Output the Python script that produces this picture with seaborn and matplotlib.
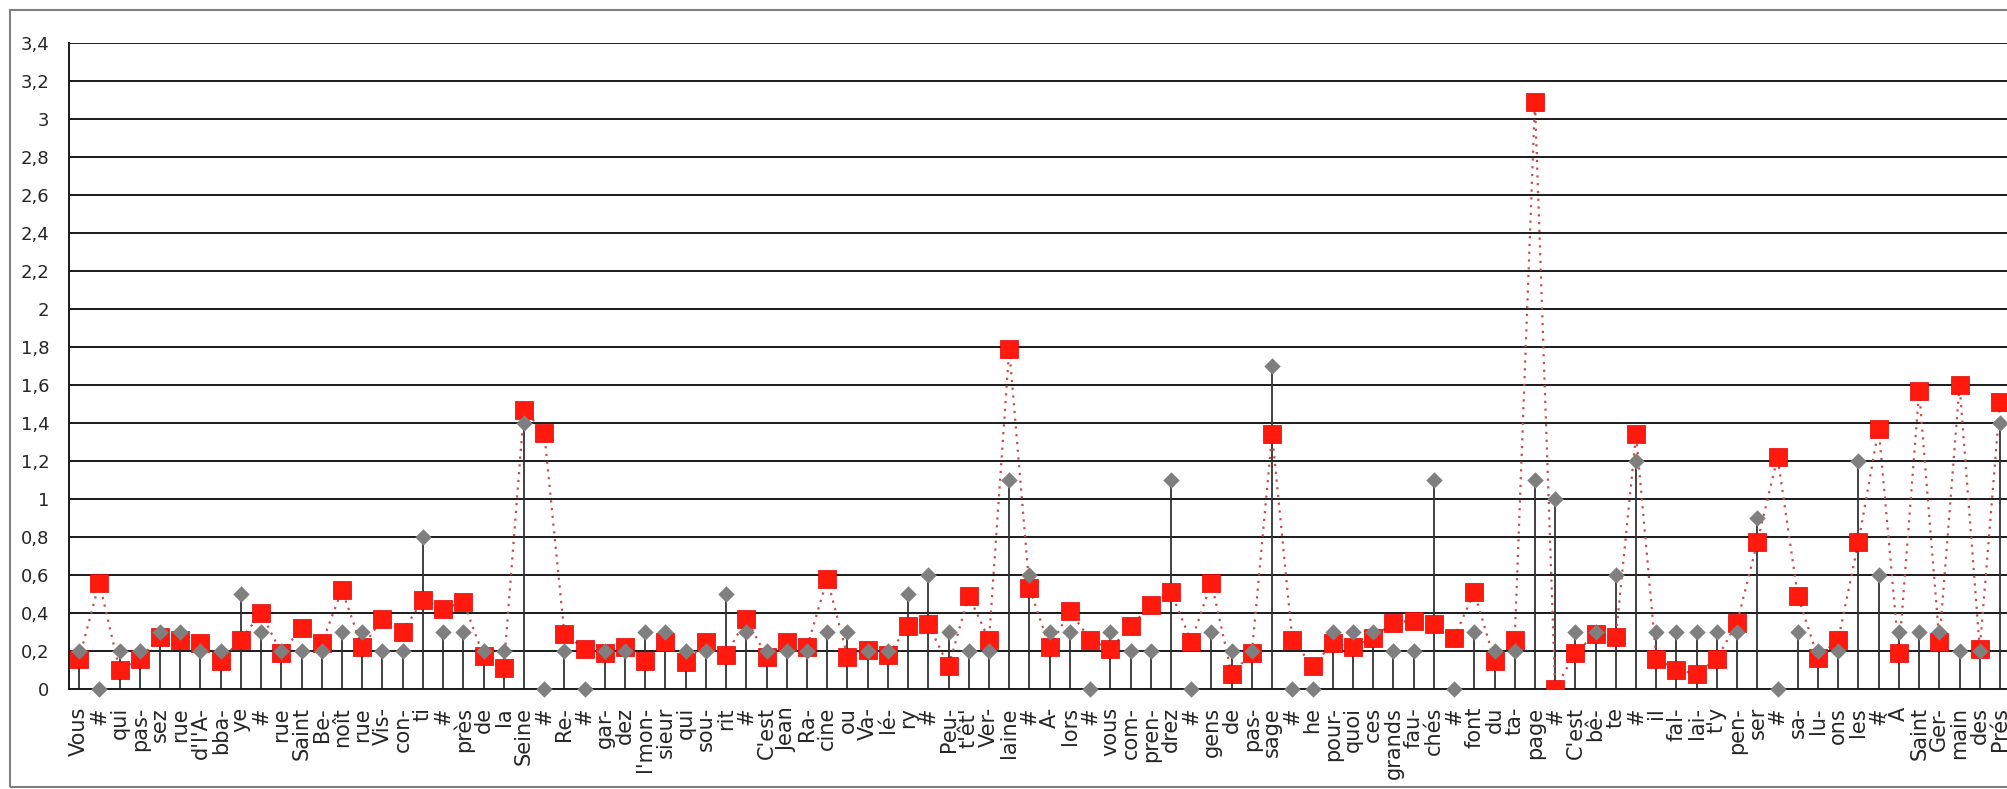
import numpy as np
import pandas as pd
import seaborn as sns
import matplotlib.pyplot as plt
from matplotlib.patches import Rectangle
from matplotlib.ticker import FixedLocator, FuncFormatter

syllabes = ["Vous", "#", "qui", "pas-", "sez", "rue", "d'l'A-", "bba-", "ye", "#",
            "rue", "Saint", "Be-", "noît", "rue", "Vis-", "con-", "ti", "#", "près",
            "de", "la", "Seine", "#", "Re-", "#", "gar-", "dez", "l'mon-", "sieur",
            "qui", "sou-", "rit", "#", "C'est", "Jean", "Ra-", "cine", "ou", "Va-",
            "lé-", "ry", "#", "Peu-", "t'êt'", "Ver-", "laine", "#", "A-", "lors",
            "#", "vous", "com-", "pren-", "drez", "#", "gens", "de", "pas-", "sage",
            "#", "he", "pour-", "quoi", "ces", "grands", "fau-", "chés", "#", "font",
            "du", "ta-", "page", "#", "C'est", "bê-", "te", "#", "il", "fal-",
            "lai-", "t'y", "pen-", "ser", "#", "sa-", "lu-", "ons", "les", "#",
            "À", "Saint", "Ger-", "main", "des", "Prés"]

# gray series (diamonds on drop lines)
duree_gris = [0.2, 0, 0.2, 0.2, 0.3, 0.3, 0.2, 0.2, 0.5, 0.3,
              0.2, 0.2, 0.2, 0.3, 0.3, 0.2, 0.2, 0.8, 0.3, 0.3,
              0.2, 0.2, 1.4, 0, 0.2, 0, 0.2, 0.2, 0.3, 0.3,
              0.2, 0.2, 0.5, 0.3, 0.2, 0.2, 0.2, 0.3, 0.3, 0.2,
              0.2, 0.5, 0.6, 0.3, 0.2, 0.2, 1.1, 0.6, 0.3, 0.3,
              0, 0.3, 0.2, 0.2, 1.1, 0, 0.3, 0.2, 0.2, 1.7,
              0, 0, 0.3, 0.3, 0.3, 0.2, 0.2, 1.1, 0, 0.3,
              0.2, 0.2, 1.1, 1.0, 0.3, 0.3, 0.6, 1.2, 0.3, 0.3,
              0.3, 0.3, 0.3, 0.9, 0, 0.3, 0.2, 0.2, 1.2, 0.6,
              0.3, 0.3, 0.3, 0.2, 0.2, 1.4]

# red series (squares, dotted line)
duree_rouge = [0.16, 0.56, 0.10, 0.16, 0.275, 0.26, 0.24, 0.15, 0.26, 0.40,
               0.19, 0.32, 0.24, 0.52, 0.22, 0.37, 0.30, 0.47, 0.42, 0.46,
               0.175, 0.11, 1.47, 1.35, 0.29, 0.21, 0.19, 0.22, 0.15, 0.25,
               0.14, 0.25, 0.18, 0.37, 0.17, 0.25, 0.22, 0.58, 0.17, 0.205,
               0.18, 0.33, 0.34, 0.12, 0.49, 0.26, 1.79, 0.53, 0.22, 0.41,
               0.26, 0.21, 0.33, 0.44, 0.51, 0.25, 0.56, 0.08, 0.19, 1.34,
               0.26, 0.12, 0.24, 0.22, 0.27, 0.35, 0.36, 0.34, 0.27, 0.51,
               0.15, 0.26, 3.09, 0.0, 0.19, 0.29, 0.275, 1.34, 0.16, 0.10,
               0.08, 0.16, 0.35, 0.775, 1.22, 0.49, 0.165, 0.26, 0.775, 1.37,
               0.19, 1.57, 0.25, 1.60, 0.21, 1.51]

df = pd.DataFrame({"pos": np.arange(len(syllabes)),
                   "syllabe": syllabes,
                   "gris": duree_gris,
                   "rouge": duree_rouge})

sns.set_style("white")
plt.rcParams['font.family'] = ['DejaVu Sans']

fig = plt.figure(figsize=(20.08, 7.89), dpi=100)
W, H = 2008, 789
n = len(syllabes)
ax = fig.add_axes([69 / W, 100 / H, n * 20.22 / W, 646 / H])

# outer chart frame (cut off on the right like the original)
fig.patches.append(Rectangle((10 / W, 2 / H), 1.2, 777 / H, transform=fig.transFigure,
                             fill=False, edgecolor="#7f7f7f", linewidth=1.5, zorder=0))

for v in np.arange(0.2, 3.41, 0.2):
    ax.axhline(v, color="#1a1a1a", linewidth=1.4, zorder=1)

ax.vlines(df["pos"], 0, df["gris"], color="#333333", linewidth=1.3, zorder=2)
sns.lineplot(data=df, x="pos", y="rouge", ax=ax, color="#c0504d", linestyle=(0, (1, 2.5)),
             linewidth=1.6, zorder=3)
sns.scatterplot(data=df, x="pos", y="rouge", ax=ax, marker="s", s=150, color="#ff1a0d",
                edgecolor="#e00000", linewidth=0.5, zorder=4)
sns.scatterplot(data=df, x="pos", y="gris", ax=ax, marker="D", s=70, color="#7f7f7f",
                edgecolor="#7f7f7f", linewidth=0, zorder=5, clip_on=False)

ax.set_xlim(-0.5, n - 0.5)
ax.set_ylim(0, 3.4)
ax.set_yticks(np.round(np.arange(0, 3.41, 0.2), 1))
ax.yaxis.set_major_formatter(FuncFormatter(lambda v, p: f"{v:g}".replace(".", ",")))
ax.set_xticks(df["pos"])
ax.set_xticklabels(syllabes, rotation=90, fontsize=15)
ax.xaxis.set_minor_locator(FixedLocator(np.arange(-0.5, n, 1.0)))
ax.tick_params(axis="x", which="major", length=0, pad=13)
ax.tick_params(axis="x", which="minor", length=6, width=1.3, color="#1a1a1a", direction="out")
ax.tick_params(axis="y", length=6, width=1.3, color="#1a1a1a", direction="out", labelsize=13, pad=8)
ax.set_xlabel("")
ax.set_ylabel("")

for side in ["top", "right"]:
    ax.spines[side].set_visible(False)
for side in ["left", "bottom"]:
    ax.spines[side].set_color("#1a1a1a")
    ax.spines[side].set_linewidth(1.4)

plt.savefig("out.png", dpi=100)
